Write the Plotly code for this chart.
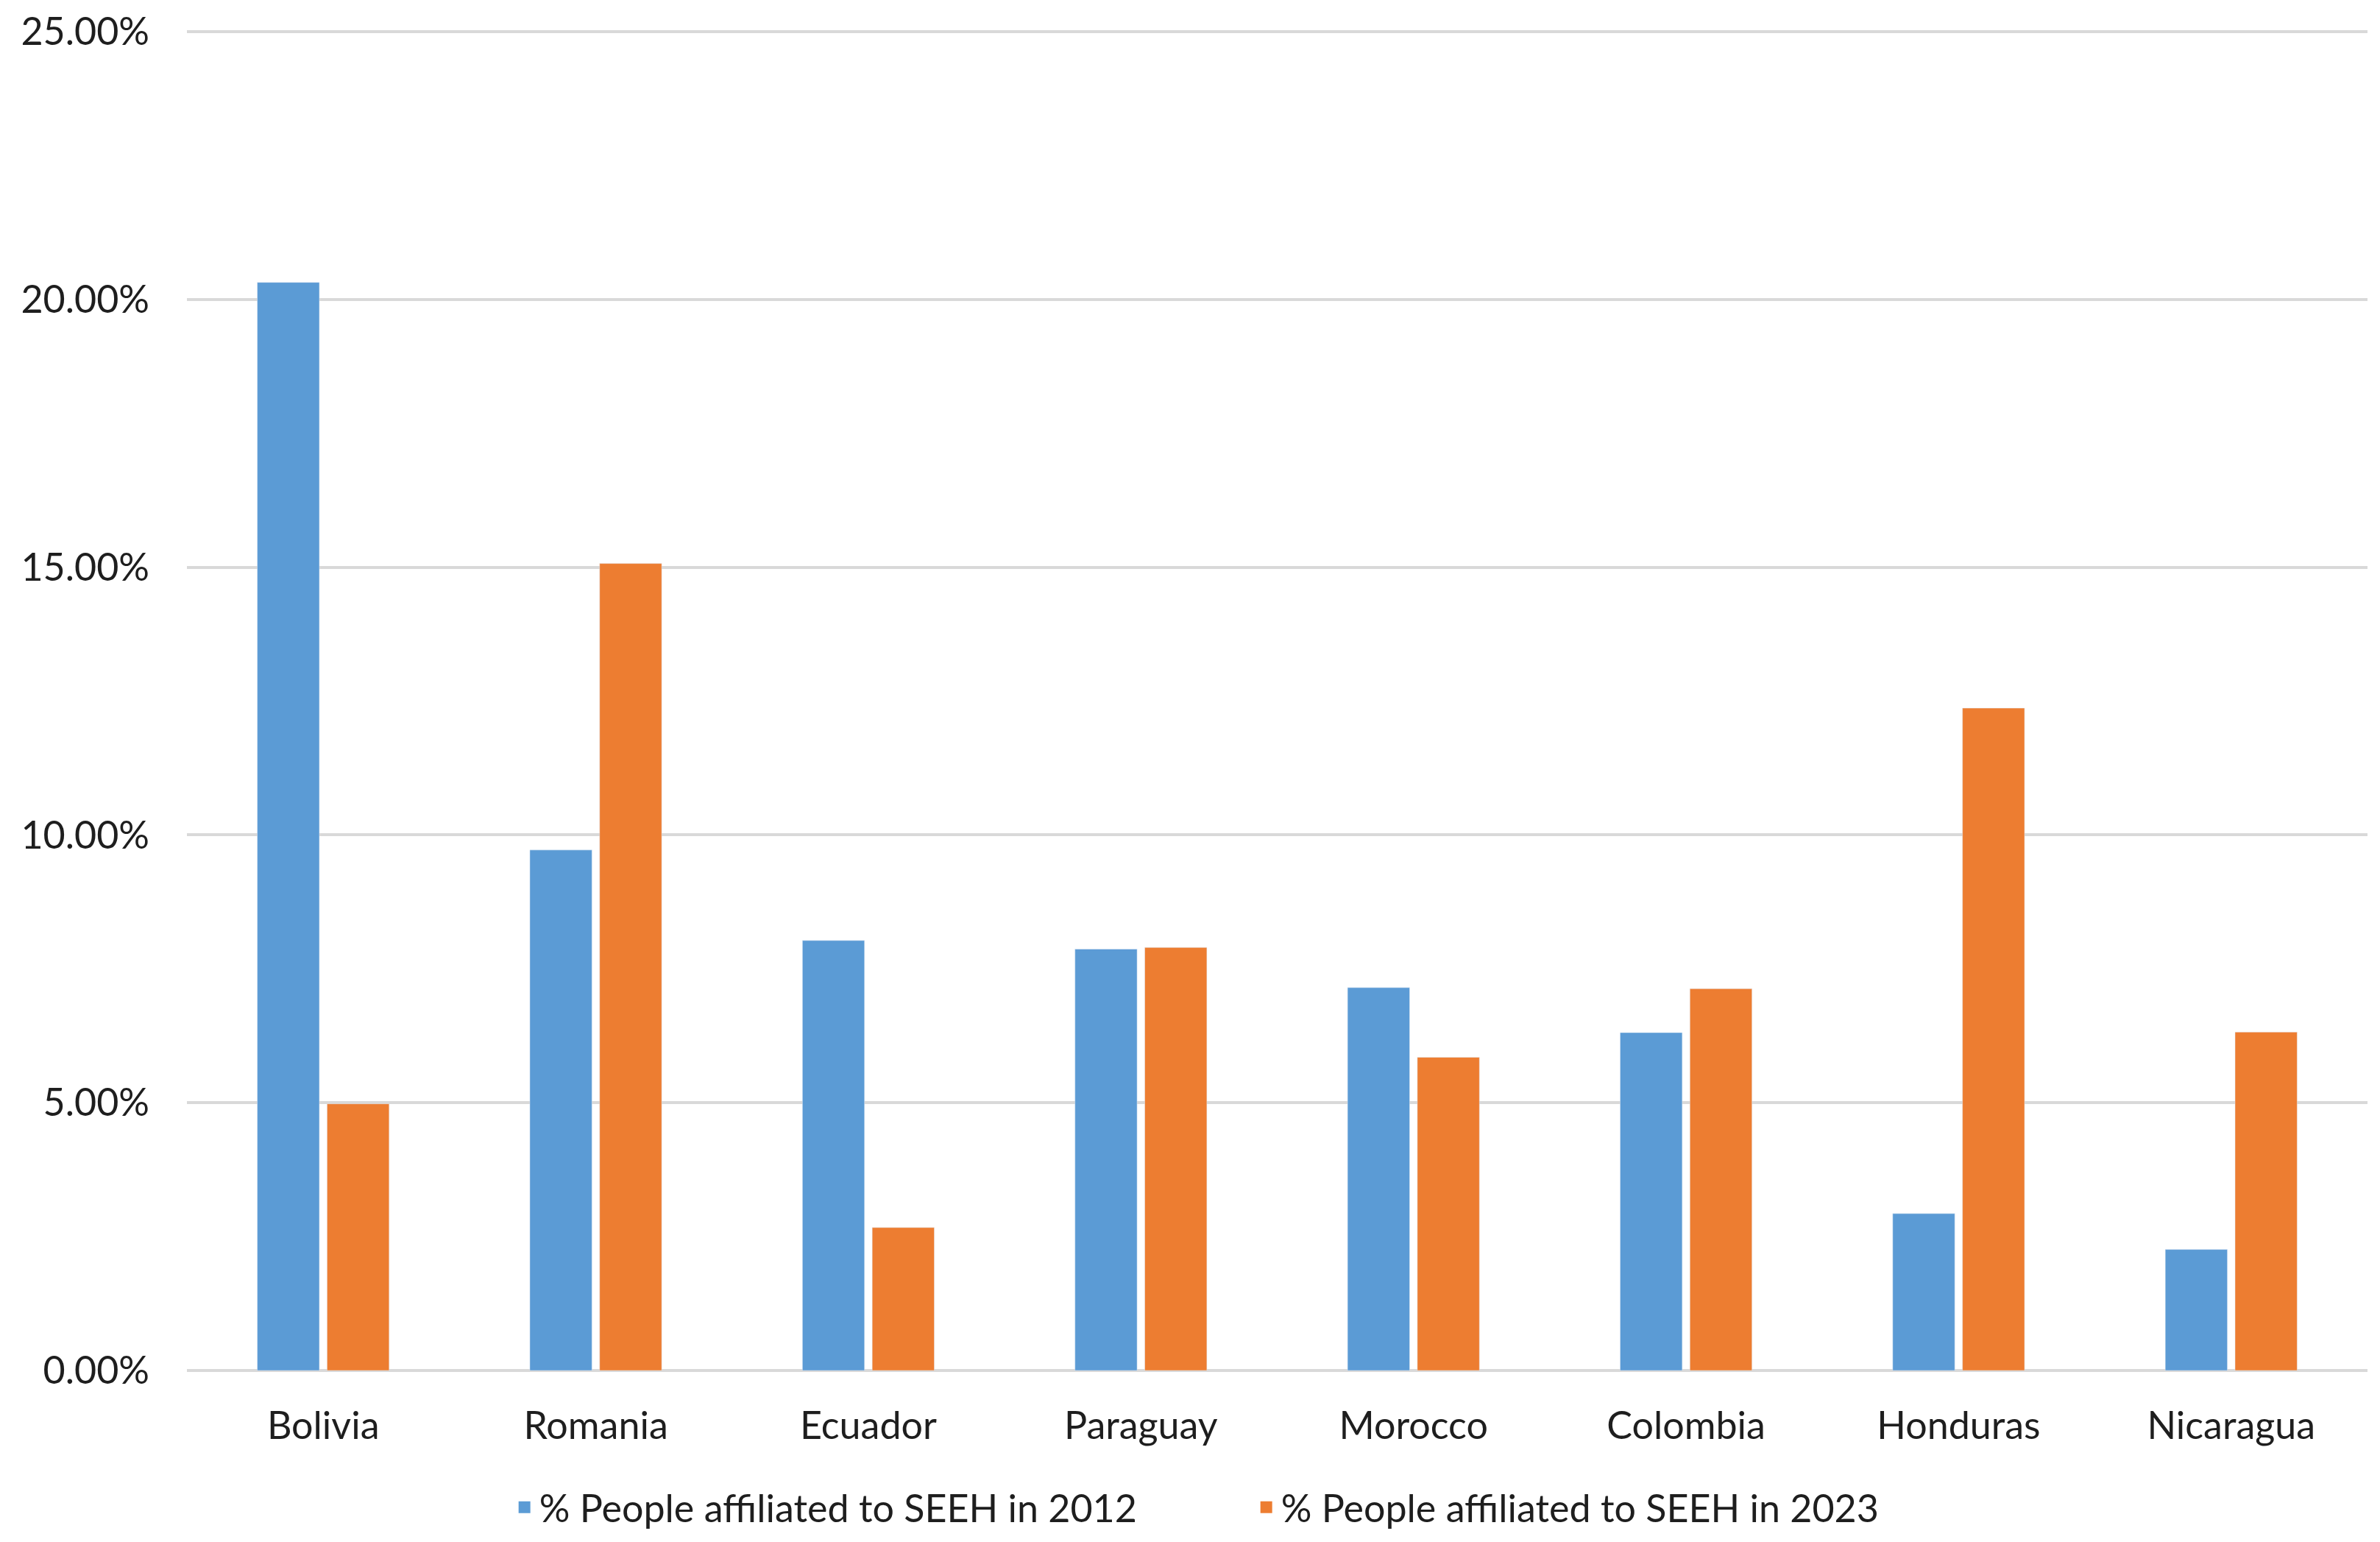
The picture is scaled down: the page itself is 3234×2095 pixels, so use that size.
import plotly.graph_objects as go

countries = ["Bolivia", "Romania", "Ecuador", "Paraguay", "Morocco", "Colombia", "Honduras", "Nicaragua"]
pct_2012 = [0.2032, 0.0972, 0.0803, 0.0787, 0.0715, 0.0631, 0.0293, 0.0226]
pct_2023 = [0.0498, 0.1507, 0.0267, 0.0790, 0.0585, 0.0713, 0.1237, 0.0632]
series_names = ["% People affiliated to SEEH in 2012", "% People affiliated to SEEH in 2023"]
series_colors = ["#5B9BD5", "#ED7D31"]
y_ticks = [0, 0.05, 0.10, 0.15, 0.20, 0.25]

FONT = "Lato"
TXT = "#1e1e1e"

fig = go.Figure()
for vals, name, col in zip([pct_2012, pct_2023], series_names, series_colors):
    fig.add_trace(go.Bar(x=countries, y=vals, name=name, marker_color=col,
                         showlegend=False, legendgroup=name))
# legend entries with larger square symbols
for name, col in zip(series_names, series_colors):
    fig.add_trace(go.Scatter(x=[None], y=[None], mode="markers", name=name,
                             legendgroup=name,
                             marker=dict(symbol="square", size=16, color=col)))

fig.update_layout(
    width=3218, height=2079,
    paper_bgcolor="white", plot_bgcolor="white",
    margin=dict(l=246, r=9, t=33, b=225),
    barmode="group", bargap=0.488, bargroupgap=0.11,
    font=dict(family=FONT, size=52, color=TXT),
    showlegend=True,
    legend=dict(
        orientation="h", xref="container", yref="container",
        x=0.526, xanchor="center", y=0.0188, yanchor="middle",
        font=dict(family=FONT, size=52, color=TXT),
        itemsizing="trace", itemwidth=30, entrywidth=963, tracegroupgap=0,
    ),
)
fig.update_yaxes(
    range=[0, 0.2503], tickvals=y_ticks, tickformat=".2%",
    showgrid=True, gridcolor="#d9d9d9", gridwidth=4,
    zeroline=True, zerolinecolor="#d9d9d9", zerolinewidth=4,
    showline=False, ticks="", ticklabelstandoff=50, automargin=False,
    tickfont=dict(family=FONT, size=52, color=TXT),
)
fig.update_xaxes(
    showgrid=False, showline=False, ticks="", ticklabelstandoff=40, automargin=False,
    tickfont=dict(family=FONT, size=52, color=TXT),
)

fig.write_html("out.html")
